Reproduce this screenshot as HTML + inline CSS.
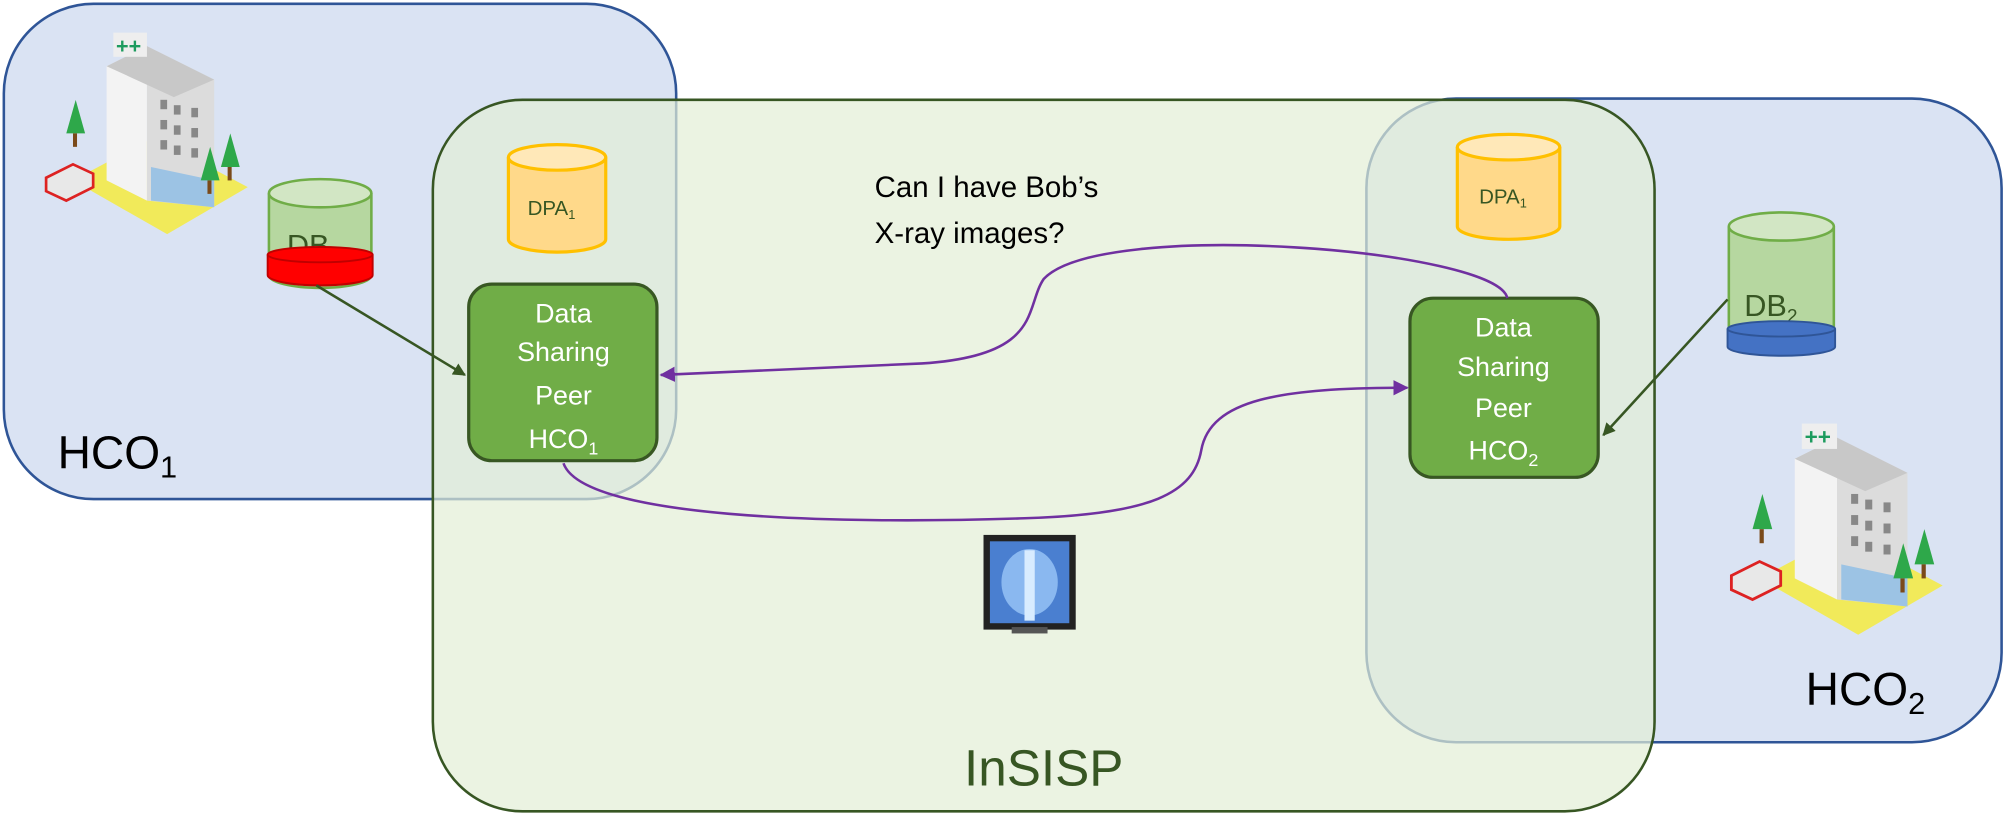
<!DOCTYPE html>
<html><head><meta charset="utf-8"><style>
html,body{margin:0;padding:0;background:#fff;}
svg{display:block;}
text{font-family:"Liberation Sans",sans-serif;}
</style></head><body>
<svg width="2008" height="819" viewBox="0 0 1568 640" preserveAspectRatio="none" xmlns="http://www.w3.org/2000/svg">
<defs>
<marker id="ag" markerWidth="10" markerHeight="10" refX="9" refY="5" orient="auto" markerUnits="userSpaceOnUse"><path d="M0,0 L10,5 L0,10 z" fill="#375623"/></marker>
<marker id="ap" markerWidth="12" markerHeight="12" refX="11" refY="6" orient="auto" markerUnits="userSpaceOnUse"><path d="M0,0 L12,6 L0,12 z" fill="#7030a0"/></marker>
<g id="hosp">
<polygon points="20,120 90,160 150,125 80,88" fill="#f1ea5a"/>
<polygon points="45,35 75,20 75,135 45,120" fill="#f3f3f3"/>
<polygon points="75,20 125,45 125,140 75,135" fill="#dcdcdc"/>
<polygon points="45,35 75,20 125,45 95,58" fill="#c8c8c8"/>
<rect x="50" y="10" width="25" height="18" fill="#eee"/>
<text x="52" y="25" font-size="16" fill="#1d9b5e" font-weight="bold">++</text>
<g fill="#888"><rect x="85" y="60" width="5" height="7"/><rect x="95" y="64" width="5" height="7"/><rect x="108" y="66" width="5" height="7"/><rect x="85" y="75" width="5" height="7"/><rect x="95" y="79" width="5" height="7"/><rect x="108" y="81" width="5" height="7"/><rect x="85" y="90" width="5" height="7"/><rect x="95" y="94" width="5" height="7"/><rect x="108" y="96" width="5" height="7"/></g>
<polygon points="78,110 125,120 125,140 78,135" fill="#9cc3e4"/>
<polygon points="15,85 22,60 29,85" fill="#2ea84a"/><rect x="20" y="85" width="3" height="10" fill="#7a4a1a"/>
<polygon points="115,120 122,95 129,120" fill="#2ea84a"/><rect x="120" y="120" width="3" height="10" fill="#7a4a1a"/>
<polygon points="130,110 137,85 144,110" fill="#2ea84a"/><rect x="135" y="110" width="3" height="10" fill="#7a4a1a"/>
<polygon points="0,118 20,108 35,115 35,125 15,135 0,128" fill="#e8e8e8" stroke="#d22" stroke-width="2"/>
</g>
</defs>

<rect x="3" y="3" width="525" height="387" rx="70" fill="#dae3f3" stroke="#2f5597" stroke-width="2"/>
<rect x="1067" y="77" width="496" height="503" rx="70" fill="#dae3f3" stroke="#2f5597" stroke-width="2"/>
<rect x="338" y="78" width="954" height="556" rx="70" fill="#e3eed6" fill-opacity="0.7" stroke="#375623" stroke-width="2"/>

<use href="#hosp" transform="translate(36,15) scale(1.05)"/>
<use href="#hosp" transform="translate(1352,320) scale(1.1)"/>

<!-- DB1 -->
<path d="M210,151 L210,215 A40,10 0 0 0 290,215 L290,151" fill="#b6d7a0" stroke="#70ad47" stroke-width="2"/>
<ellipse cx="250" cy="151" rx="40" ry="11" fill="#d2e6c4" stroke="#70ad47" stroke-width="2"/>
<text x="224" y="200" font-size="24" fill="#375623">DB<tspan font-size="15" dy="5">1</tspan></text>
<path d="M209,199 L209,215 A41,8 0 0 0 291,215 L291,199" fill="#ff0000" stroke="#c00000" stroke-width="1.5"/>
<ellipse cx="250" cy="199" rx="41" ry="6" fill="#ff0000" stroke="#c00000" stroke-width="1.5"/>

<!-- DB2 -->
<path d="M1350,177 L1350,262 A41,10 0 0 0 1432,262 L1432,177" fill="#b6d7a0" stroke="#70ad47" stroke-width="2"/>
<ellipse cx="1391" cy="177" rx="41" ry="11" fill="#d2e6c4" stroke="#70ad47" stroke-width="2"/>
<text x="1362" y="247" font-size="24" fill="#375623">DB<tspan font-size="15" dy="5">2</tspan></text>
<path d="M1349,257 L1349,271 A42,7 0 0 0 1433,271 L1433,257" fill="#4472c4" stroke="#2f5597" stroke-width="1.5"/>
<ellipse cx="1391" cy="257" rx="42" ry="6" fill="#4472c4" stroke="#2f5597" stroke-width="1.5"/>

<!-- DPA left -->
<path d="M397,123 L397,187 A38,10 0 0 0 473,187 L473,123" fill="#ffd98a" stroke="#ffc000" stroke-width="2.5"/>
<ellipse cx="435" cy="123" rx="38" ry="10" fill="#ffe8b8" stroke="#ffc000" stroke-width="2.5"/>
<text x="412" y="168" font-size="16" fill="#375623">DPA<tspan font-size="10" dy="3">1</tspan></text>
<!-- DPA right -->
<path d="M1138,115 L1138,177 A40,10 0 0 0 1218,177 L1218,115" fill="#ffd98a" stroke="#ffc000" stroke-width="2.5"/>
<ellipse cx="1178" cy="115" rx="40" ry="10" fill="#ffe8b8" stroke="#ffc000" stroke-width="2.5"/>
<text x="1155" y="159" font-size="16" fill="#375623">DPA<tspan font-size="10" dy="3">1</tspan></text>

<!-- Peers -->
<rect x="366" y="222" width="147" height="138" rx="18" fill="#70ad47" stroke="#385723" stroke-width="2.5"/>
<g font-size="21" fill="#fff" text-anchor="middle">
<text x="440" y="252">Data</text><text x="440" y="282">Sharing</text><text x="440" y="316">Peer</text><text x="440" y="350">HCO<tspan font-size="14" dy="5">1</tspan></text>
</g>
<rect x="1101" y="233" width="147" height="140" rx="18" fill="#70ad47" stroke="#385723" stroke-width="2.5"/>
<g font-size="21" fill="#fff" text-anchor="middle">
<text x="1174" y="263">Data</text><text x="1174" y="294">Sharing</text><text x="1174" y="326">Peer</text><text x="1174" y="359">HCO<tspan font-size="14" dy="5">2</tspan></text>
</g>

<!-- arrows -->
<line x1="247" y1="223" x2="363" y2="293" stroke="#375623" stroke-width="2" marker-end="url(#ag)"/>
<line x1="1349" y1="234" x2="1252" y2="340" stroke="#375623" stroke-width="2" marker-end="url(#ag)"/>
<path d="M1177,233 C1170,195 860,170 815,218 C800,240 815,278 720,284 L516,293" fill="none" stroke="#7030a0" stroke-width="2" marker-end="url(#ap)"/>
<path d="M440,362 C455,405 650,410 800,405 C900,402 932,385 938,352 C945,312 1000,303 1099,303" fill="none" stroke="#7030a0" stroke-width="2" marker-end="url(#ap)"/>

<!-- xray -->
<rect x="768" y="418" width="72" height="74" fill="#222"/>
<rect x="773" y="423" width="62" height="64" fill="#4a7fd0"/>
<ellipse cx="804" cy="455" rx="22" ry="26" fill="#8ab8f0"/>
<rect x="800" y="430" width="8" height="55" fill="#d8ecff"/>
<rect x="790" y="490" width="28" height="5" fill="#555"/>

<text x="683" y="154" font-size="23" fill="#000">Can I have Bob’s</text>
<text x="683" y="190" font-size="23" fill="#000">X-ray images?</text>

<text x="45" y="366" font-size="36" fill="#000">HCO<tspan font-size="24" dy="7">1</tspan></text>
<text x="1410" y="551" font-size="36" fill="#000">HCO<tspan font-size="24" dy="7">2</tspan></text>
<text x="815" y="614" font-size="40" fill="#375623" text-anchor="middle">InSISP</text>
</svg>
</body></html>
